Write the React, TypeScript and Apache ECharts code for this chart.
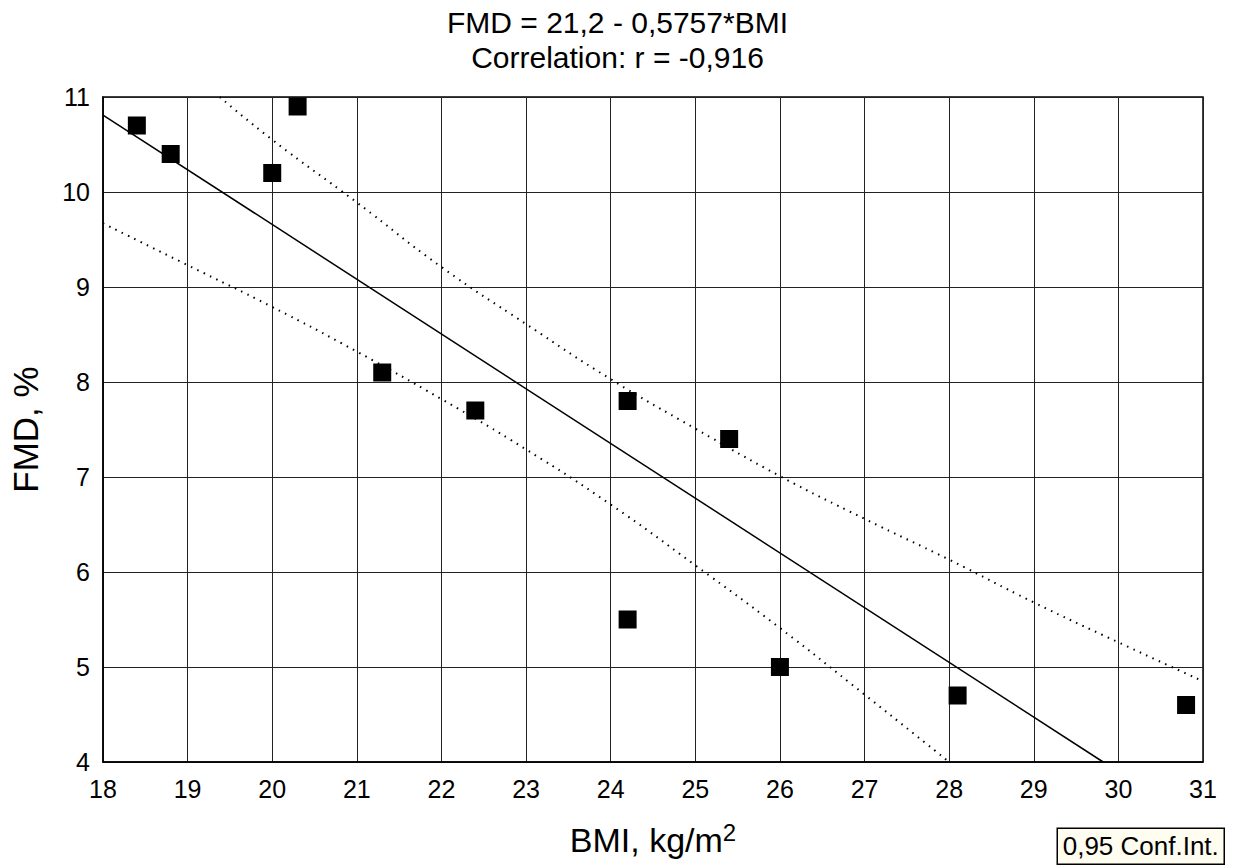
import React, { useEffect, useRef } from "react";
import * as echarts from "echarts";

const titleLines = ["FMD = 21,2 - 0,5757*BMI", "Correlation: r = -0,916"];
const xNameMain = "BMI, kg/m";
const xNameSup = "2";
const yName = "FMD, %";
const legendLabel = "0,95 Conf.Int.";

// observed points: [BMI, FMD]
const bmi = [18.4, 18.8, 20.0, 20.3, 21.3, 22.4, 24.2, 24.2, 25.4, 26.0, 28.1, 30.8];
const fmd = [10.7, 10.4, 10.2, 10.9, 8.1, 7.7, 7.8, 5.5, 7.4, 5.0, 4.7, 4.6];

// regression line end points
const fitLine: [number, number][] = [
  [18, 10.81],
  [29.82, 4.0],
];

// 0.95 confidence bands
const upperBand: [number, number][] = [
  [19.38, 11.0], [20, 10.55], [21, 9.89], [22, 9.21], [23, 8.61], [24, 8.03],
  [25, 7.51], [26, 7.01], [27, 6.56], [28, 6.13], [29, 5.68], [30, 5.26], [31, 4.85],
];
const lowerBand: [number, number][] = [
  [18, 9.67], [19, 9.23], [20, 8.79], [21, 8.32], [22, 7.82], [23, 7.29],
  [24, 6.71], [25, 6.07], [26, 5.41], [27, 4.71], [28, 4.0],
];

const FONT = "'Liberation Sans', Arial, sans-serif";

export default function App() {
  const ref = useRef<HTMLDivElement>(null);
  useEffect(() => {
    if (!ref.current) return;
    const chart = echarts.init(ref.current, undefined, { renderer: "svg" });
    const points = bmi.map((b, i) => [b, fmd[i]]);
    const dotted = {
      type: "line",
      smooth: true,
      showSymbol: false,
      symbol: "none",
      lineStyle: { color: "#000", width: 2, type: [1.5, 5.5] },
      z: 3,
    };
    chart.setOption({
      animation: false,
      backgroundColor: "#fff",
      textStyle: { fontFamily: FONT },
      title: {
        text: titleLines.join("\n"),
        left: "center",
        top: 0,
        textStyle: { fontFamily: FONT, fontSize: 30, fontWeight: "normal", color: "#000", lineHeight: 35 },
      },
      grid: {
        left: 103,
        right: 32,
        top: 97,
        bottom: 106,
        show: true,
        borderColor: "#000",
        borderWidth: 1.5,
        backgroundColor: "transparent",
      },
      xAxis: {
        type: "value",
        min: 18,
        max: 31,
        interval: 1,
        name: `{a|${xNameMain}}{s|${xNameSup}}`,
        nameLocation: "middle",
        nameGap: 58,
        nameTextStyle: {
          fontFamily: FONT,
          fontSize: 34,
          color: "#000",
          rich: {
            a: { fontFamily: FONT, fontSize: 34, color: "#000", lineHeight: 40 },
            s: { fontFamily: FONT, fontSize: 24, color: "#000", lineHeight: 18, verticalAlign: "top" },
          },
        },
        axisLine: { show: true, lineStyle: { color: "#000", width: 1.5 } },
        axisTick: { show: false },
        axisLabel: { fontFamily: FONT, fontSize: 25, color: "#000", margin: 14 },
        splitLine: { show: true, lineStyle: { color: "#222", width: 1 } },
      },
      yAxis: {
        type: "value",
        min: 4,
        max: 11,
        interval: 1,
        name: yName,
        nameLocation: "middle",
        nameGap: 60,
        nameRotate: 90,
        nameTextStyle: { fontFamily: FONT, fontSize: 35, color: "#000" },
        axisLine: { show: true, lineStyle: { color: "#000", width: 1.5 } },
        axisTick: { show: false },
        axisLabel: { fontFamily: FONT, fontSize: 25, color: "#000", margin: 13 },
        splitLine: { show: true, lineStyle: { color: "#222", width: 1 } },
      },
      series: [
        { ...dotted, name: "upper", data: upperBand },
        { ...dotted, name: "lower", data: lowerBand },
        {
          type: "line",
          name: "fit",
          data: fitLine,
          showSymbol: false,
          symbol: "none",
          lineStyle: { color: "#000", width: 1.5 },
          z: 3,
        },
        {
          type: "scatter",
          name: "data",
          data: points,
          symbol: "rect",
          symbolSize: 18,
          itemStyle: { color: "#000", opacity: 1 },
          z: 4,
        },
      ],
      graphic: [
        {
          type: "group",
          right: 10,
          bottom: 3,
          children: [
            {
              type: "rect",
              shape: { x: 0, y: 0, width: 167, height: 36 },
              style: { fill: "#fffcf0", stroke: "#000", lineWidth: 1.5 },
            },
            {
              type: "text",
              x: 83.5,
              y: 18,
              style: {
                text: legendLabel,
                font: `26px ${FONT}`,
                fill: "#000",
                align: "center",
                verticalAlign: "middle",
              },
            },
          ],
        },
      ],
    });
    return () => chart.dispose();
  }, []);
  return (
    <div
      ref={ref}
      style={{ position: "fixed", left: 0, top: 0, width: 1235, height: 868, background: "#fff" }}
    />
  );
}
